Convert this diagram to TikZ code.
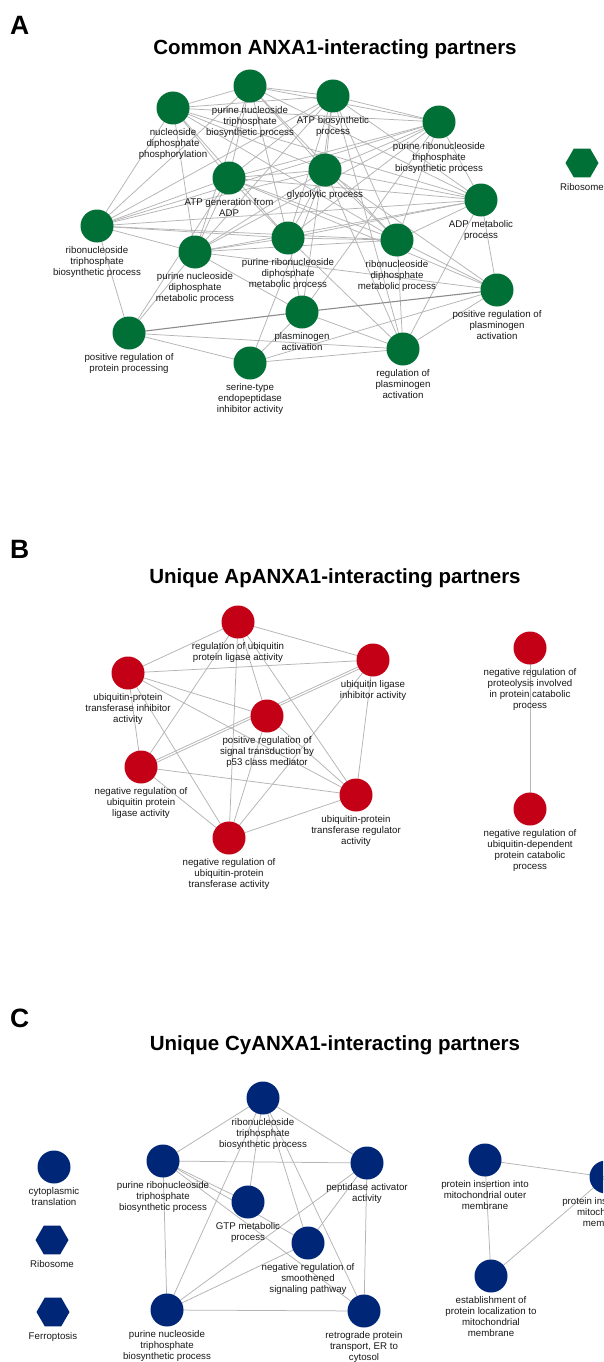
\documentclass[tikz,border=0pt]{standalone}
\usepackage{fontspec}
\setmainfont{Liberation Sans}
\usetikzlibrary{shapes.geometric}
\pgfdeclarelayer{bg}
\pgfsetlayers{bg,main}
\definecolor{ngreen}{RGB}{0,112,55}
\definecolor{nred}{RGB}{196,0,22}
\definecolor{nblue}{RGB}{0,38,120}
\definecolor{edgegray}{RGB}{180,180,180}
\definecolor{lbltext}{RGB}{25,25,25}
\newcommand\lblstrut{\rule{0pt}{7.5pt}}
\tikzset{
  gonode/.style={circle, fill=ngreen, draw=none, minimum size=33pt, inner sep=0pt},
  ronode/.style={circle, fill=nred, draw=none, minimum size=33pt, inner sep=0pt},
  bonode/.style={circle, fill=nblue, draw=none, minimum size=33pt, inner sep=0pt},
  hexnode/.style={regular polygon, regular polygon sides=6, draw=none, minimum size=33pt, inner sep=0pt},
  lbl/.style={anchor=north, inner sep=0pt, align=center, text=lbltext, font=\fontsize{9.7}{11}\selectfont},
  edgeline/.style={draw=edgegray, line width=0.75pt},
  heavyedge/.style={draw=black!45, line width=1.1pt},
  paneltitle/.style={anchor=base, inner sep=0pt, font=\fontsize{20.5}{24}\selectfont\bfseries},
  panelletter/.style={anchor=base west, inner sep=0pt, font=\fontsize{26.5}{30}\selectfont\bfseries},
}
\begin{document}
\begin{tikzpicture}[x=1pt, y=-1pt]
\clip (0,0) rectangle (603,1362);
\begin{pgfonlayer}{bg}
\fill[white] (0,0) rectangle (603,1362);
\end{pgfonlayer}

% ---------------- Panel A ----------------
\node[panelletter] (la) at (10,35) {A};
\node[paneltitle] (ta) at (335,55) {Common ANXA1-interacting partners};

\node[gonode] (n1) at (173,108) {};
\node[gonode] (n2) at (250,86) {};
\node[gonode] (n3) at (333,96) {};
\node[gonode] (n4) at (439,122) {};
\node[gonode] (n5) at (229,178) {};
\node[gonode] (n6) at (325,170) {};
\node[gonode] (n7) at (481,200) {};
\node[gonode] (n8) at (97,226) {};
\node[gonode] (n9) at (195,252) {};
\node[gonode] (n10) at (288,238) {};
\node[gonode] (n11) at (397,240) {};
\node[gonode] (n12) at (497,290) {};
\node[gonode] (n13) at (302,312) {};
\node[gonode] (n14) at (129,333) {};
\node[gonode] (n15) at (250,363) {};
\node[gonode] (n16) at (403,349) {};
\node[hexnode, fill=ngreen] (hA) at (582,163) {};

\node[lbl] (n1l) at ([yshift=-19.5pt]n1.center) {\lblstrut nucleoside\\diphosphate\\phosphorylation};
\node[lbl] (n2l) at ([yshift=-19.5pt]n2.center) {\lblstrut purine nucleoside\\triphosphate\\biosynthetic process};
\node[lbl] (n3l) at ([yshift=-19.5pt]n3.center) {\lblstrut ATP biosynthetic\\process};
\node[lbl] (n4l) at ([yshift=-19.5pt]n4.center) {\lblstrut purine ribonucleoside\\triphosphate\\biosynthetic process};
\node[lbl] (n5l) at ([yshift=-19.5pt]n5.center) {\lblstrut ATP generation from\\ADP};
\node[lbl] (n6l) at ([yshift=-19.5pt]n6.center) {\lblstrut glycolytic process};
\node[lbl] (n7l) at ([yshift=-19.5pt]n7.center) {\lblstrut ADP metabolic\\process};
\node[lbl] (n8l) at ([yshift=-19.5pt]n8.center) {\lblstrut ribonucleoside\\triphosphate\\biosynthetic process};
\node[lbl] (n9l) at ([yshift=-19.5pt]n9.center) {\lblstrut purine nucleoside\\diphosphate\\metabolic process};
\node[lbl] (n10l) at ([yshift=-19.5pt]n10.center) {\lblstrut purine ribonucleoside\\diphosphate\\metabolic process};
\node[lbl] (n11l) at ([yshift=-19.5pt]n11.center) {\lblstrut ribonucleoside\\diphosphate\\metabolic process};
\node[lbl] (n12l) at ([yshift=-19.5pt]n12.center) {\lblstrut positive regulation of\\plasminogen\\activation};
\node[lbl] (n13l) at ([yshift=-19.5pt]n13.center) {\lblstrut plasminogen\\activation};
\node[lbl] (n14l) at ([yshift=-19.5pt]n14.center) {\lblstrut positive regulation of\\protein processing};
\node[lbl] (n15l) at ([yshift=-19.5pt]n15.center) {\lblstrut serine-type\\endopeptidase\\inhibitor activity};
\node[lbl] (n16l) at ([yshift=-19.5pt]n16.center) {\lblstrut regulation of\\plasminogen\\activation};
\node[lbl] (hAl) at ([yshift=-19.5pt]hA.center) {\lblstrut Ribosome};

\begin{pgfonlayer}{bg}
\foreach \i in {1,...,10} {
  \pgfmathtruncatemacro\jnext{\i+1}
  \foreach \k in {\jnext,...,11} {
    \draw[edgeline] (n\i.center) -- (n\k.center);
  }
}
\foreach \a/\b in {n13/n16, n13/n15, n15/n16, n14/n15, n14/n16, n15/n12, n16/n12,
  n12/n7, n16/n11, n16/n7, n16/n6, n16/n10, n13/n10, n13/n4, n13/n9, n13/n3,
  n12/n11, n12/n9, n12/n6, n12/n5, n14/n8, n14/n9, n14/n5, n15/n6, n16/n3} {
  \draw[edgeline] (\a.center) -- (\b.center);
}
\draw[heavyedge] (n14.center) -- (n13.center);
\draw[heavyedge] (n13.center) -- (n12.center);
\end{pgfonlayer}

% ---------------- Panel B ----------------
\node[panelletter] (lb) at (10,558) {B};
\node[paneltitle] (tb) at (335,583) {Unique ApANXA1-interacting partners};

\node[ronode] (b1) at (238,622) {};
\node[ronode] (b2) at (373,660) {};
\node[ronode] (b3) at (128,673) {};
\node[ronode] (b4) at (267,716) {};
\node[ronode] (b5) at (141,767) {};
\node[ronode] (b6) at (356,795) {};
\node[ronode] (b7) at (229,838) {};
\node[ronode] (b8) at (530,648) {};
\node[ronode] (b9) at (530,809) {};

\node[lbl] (b1l) at ([yshift=-19.5pt]b1.center) {\lblstrut regulation of ubiquitin\\protein ligase activity};
\node[lbl] (b2l) at ([yshift=-19.5pt]b2.center) {\lblstrut ubiquitin ligase\\inhibitor activity};
\node[lbl] (b3l) at ([yshift=-19.5pt]b3.center) {\lblstrut ubiquitin-protein\\transferase inhibitor\\activity};
\node[lbl] (b4l) at ([yshift=-19.5pt]b4.center) {\lblstrut positive regulation of\\signal transduction by\\p53 class mediator};
\node[lbl] (b5l) at ([yshift=-19.5pt]b5.center) {\lblstrut negative regulation of\\ubiquitin protein\\ligase activity};
\node[lbl] (b6l) at ([yshift=-19.5pt]b6.center) {\lblstrut ubiquitin-protein\\transferase regulator\\activity};
\node[lbl] (b7l) at ([yshift=-19.5pt]b7.center) {\lblstrut negative regulation of\\ubiquitin-protein\\transferase activity};
\node[lbl] (b8l) at ([yshift=-19.5pt]b8.center) {\lblstrut negative regulation of\\proteolysis involved\\in protein catabolic\\process};
\node[lbl] (b9l) at ([yshift=-19.5pt]b9.center) {\lblstrut negative regulation of\\ubiquitin-dependent\\protein catabolic\\process};

\begin{pgfonlayer}{bg}
\foreach \a/\b in {b1/b2, b1/b3, b1/b4, b1/b5, b1/b6, b1/b7, b3/b2, b3/b4, b3/b5,
  b3/b6, b3/b7, b2/b5, b2/b7, b2/b6, b4/b7, b4/b6, b5/b6, b5/b7, b7/b6, b8/b9} {
  \draw[edgeline] (\a.center) -- (\b.center);
}
\draw[edgeline] ([yshift=-2.5pt]b2.center) -- ([yshift=-2.5pt]b5.center);
\end{pgfonlayer}

% ---------------- Panel C ----------------
\node[panelletter] (lc) at (10,1027) {C};
\node[paneltitle] (tc) at (335,1050) {Unique CyANXA1-interacting partners};

\node[bonode] (c1) at (263,1098) {};
\node[bonode] (c2) at (163,1161) {};
\node[bonode] (c3) at (367,1163) {};
\node[bonode] (c4) at (248,1202) {};
\node[bonode] (c5) at (308,1243) {};
\node[bonode] (c6) at (167,1310) {};
\node[bonode] (c7) at (364,1311) {};
\node[bonode] (c8) at (54,1167) {};
\node[hexnode, fill=nblue] (hR) at (52,1240) {};
\node[hexnode, fill=nblue] (hF) at (53,1312) {};
\node[bonode] (c9) at (485,1160) {};
\node[bonode] (c10) at (606,1177) {};
\node[bonode] (c11) at (491,1276) {};

\node[lbl] (c1l) at ([yshift=-19.5pt]c1.center) {\lblstrut ribonucleoside\\triphosphate\\biosynthetic process};
\node[lbl] (c2l) at ([yshift=-19.5pt]c2.center) {\lblstrut purine ribonucleoside\\triphosphate\\biosynthetic process};
\node[lbl] (c3l) at ([yshift=-19.5pt]c3.center) {\lblstrut peptidase activator\\activity};
\node[lbl] (c4l) at ([yshift=-19.5pt]c4.center) {\lblstrut GTP metabolic\\process};
\node[lbl] (c5l) at ([yshift=-19.5pt]c5.center) {\lblstrut negative regulation of\\smoothened\\signaling pathway};
\node[lbl] (c6l) at ([yshift=-19.5pt]c6.center) {\lblstrut purine nucleoside\\triphosphate\\biosynthetic process};
\node[lbl] (c7l) at ([yshift=-19.5pt]c7.center) {\lblstrut retrograde protein\\transport, ER to\\cytosol};
\node[lbl] (c8l) at ([yshift=-19.5pt]c8.center) {\lblstrut cytoplasmic\\translation};
\node[lbl] (hRl) at ([yshift=-19.5pt]hR.center) {\lblstrut Ribosome};
\node[lbl] (hFl) at ([yshift=-19.5pt]hF.center) {\lblstrut Ferroptosis};
\node[lbl] (c9l) at ([yshift=-19.5pt]c9.center) {\lblstrut protein insertion into\\mitochondrial outer\\membrane};
\node[lbl] (c10l) at ([yshift=-19.5pt]c10.center) {\lblstrut protein insertion into\\mitochondrial\\membrane};
\node[lbl] (c11l) at ([yshift=-19.5pt]c11.center) {\lblstrut establishment of\\protein localization to\\mitochondrial\\membrane};

\begin{pgfonlayer}{bg}
\foreach \a/\b in {c1/c2, c1/c3, c1/c4, c1/c5, c1/c6, c1/c7, c2/c3, c2/c4, c2/c5,
  c2/c7, c2/c6, c3/c6, c3/c5, c3/c7, c5/c6, c6/c7, c9/c10, c9/c11, c10/c11} {
  \draw[edgeline] (\a.center) -- (\b.center);
}
\end{pgfonlayer}
\end{tikzpicture}
\end{document}
